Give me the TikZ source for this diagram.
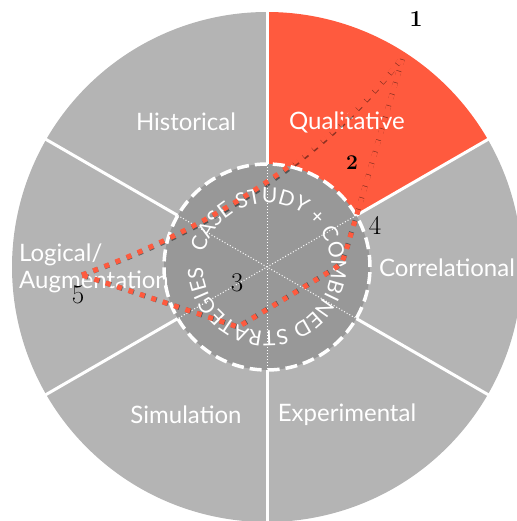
\documentclass[tikz,border=0pt]{standalone}
\usepackage{fontspec}
\setsansfont{Lato}
\usepackage{xcolor}
\usepackage{tikz}
\usetikzlibrary{calc, decorations.text}

\definecolor{wedgegray}{RGB}{180,180,180}
\definecolor{coregray}{RGB}{152,152,152}
\definecolor{qualred}{RGB}{255,90,62}

\begin{document}
\begin{tikzpicture}[
    x=1pt, y=1pt,
    wedge/.style={
        fill=wedgegray
    },
    sep/.style={
        draw=white, 
        line width=3pt
    },
    wedgelabel/.style={
        text=white, 
        inner sep=0pt, 
        font=\sffamily\fontsize{24}{27}\selectfont
    },
    num/.style={
        inner sep=0pt, 
        font=\fontsize{27}{27}\selectfont
    },
    route/.style={
        draw=qualred, 
        line width=5pt, 
        dash pattern=on 5pt off 7pt
    },
    routeshadow/.style={
        route, 
        draw=black, 
        opacity=0.45
    }
]
\useasboundingbox (-267,-254) rectangle (249,267);
\coordinate (o) at (0,0);

% Outer Wedges
\foreach \a in {90,150,210,270,330}
    \fill[wedge] (o) -- (\a:255) arc[start angle=\a, end angle=\a+60, radius=255] -- cycle;
\fill[qualred] (o) -- (30:255) arc[start angle=30, end angle=90, radius=255] -- cycle;
\foreach \a in {30,90,...,330}
    \draw[sep] (o) -- (\a:260);

% Inner Circle (Case Study + Combined Strategies)
\fill[coregray] (o) circle[radius=103];
\foreach \a in {30,90,150}
    \draw[white, dotted, line width=1pt] (\a:103) -- (\a+180:103);
\draw[white, line width=3.5pt, dash pattern=on 12pt off 6pt] (o) circle[radius=103];
\path[decorate, decoration={text along path, text align=center,
    text={|\sffamily\fontsize{21}{21}\selectfont\color{white}|CASE STUDY + COMBINED STRATEGIES}}]
    (173.5:64) arc[start angle=173.5, end angle=-186.5, radius=64];

% Wedge Labels
\node (hist)  at (-81,145)  [wedgelabel] {Historical};
\node (qual)  at (80,145)   [wedgelabel] {Qualitative};
\node (corr)  at (180,-1)   [wedgelabel] {Correlational};
\node (logic) at (-248,-1)  [wedgelabel, anchor=west, align=left] {Logical/\\Augmentation};
\node (sim)   at (-81,-148) [wedgelabel] {Simulation};
\node (exp)   at (80,-148)  [wedgelabel] {Experimental};

% Route Points
\coordinate (p1)   at (136,210);
\coordinate (p4)   at (90,53);
\coordinate (bend) at (75,3);
\coordinate (p3)   at (-29,-60);
\coordinate (p5)   at (-185,-8);

% Route (shadow, then dots)
\draw[routeshadow, shift={(1.5,-2)}] (p5) .. controls (-46,43) and (61,116) .. (p1) -- (p4)
    -- ($(bend)!0.3!(p4)$) .. controls (bend) .. ($(bend)!0.15!(p3)$) -- (p3) -- (p5);
\draw[route] (p5) .. controls (-46,43) and (61,116) .. (p1) -- (p4)
    -- ($(bend)!0.3!(p4)$) .. controls (bend) .. ($(bend)!0.15!(p3)$) -- (p3) -- (p5);

% Numbers
\node (n1) at (149,248)  [num, font=\bfseries\fontsize{23}{23}\selectfont] {1};
\node (n2) at (85,104)   [num, font=\bfseries\fontsize{21}{21}\selectfont] {2};
\node (n3) at (-30,-16)  [num] {3};
\node (n4) at (108,42)   [num] {4};
\node (n5) at (-189,-28) [num] {5};

\end{tikzpicture}
\end{document}
